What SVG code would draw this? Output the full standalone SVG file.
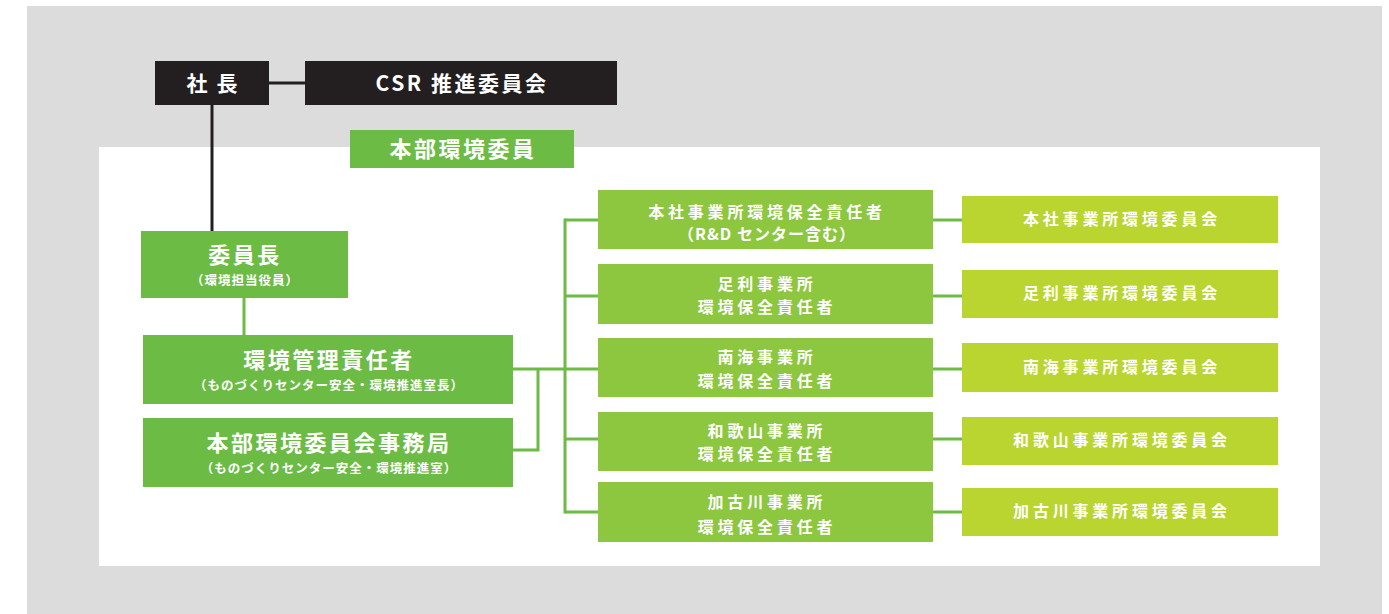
<svg xmlns="http://www.w3.org/2000/svg" width="1389" height="614" viewBox="0 0 1389 614">
<style>
  .t { font-family: "Noto Sans CJK JP", "Noto Sans", sans-serif; font-weight: bold; fill: #ffffff; text-anchor: middle; }
  .blk { fill: #231f20; }
  .g1 { fill: #6cbb45; }
  .g2 { fill: #8dc63f; }
  .g3 { fill: #bad530; }
  .lk { stroke: #231f20; stroke-width: 3; fill: none; }
  .lg { stroke: #6cbb45; stroke-width: 3; fill: none; }
  .big { font-size: 22px; letter-spacing: 2.5px; }
  .sub { font-size: 12.5px; letter-spacing: 1px; }
  .mid { font-size: 16px; letter-spacing: 3.8px; }
</style>
<rect x="0" y="0" width="1389" height="614" fill="#ffffff"/>
<rect x="27" y="6" width="1355" height="608" fill="#dcdcdc"/>
<rect x="99" y="147" width="1221" height="419" fill="#ffffff"/>

<g id="connectors">
  <line class="lk" x1="269" y1="83" x2="305" y2="83"/>
  <line class="lk" x1="212" y1="105" x2="212" y2="231"/>
  <line class="lg" x1="244" y1="298" x2="244" y2="335"/>
  <line class="lg" x1="513" y1="369" x2="565" y2="369"/>
  <polyline class="lg" points="538,369 538,450 513,450"/>
  <line class="lg" x1="565" y1="218.5" x2="565" y2="513.5"/>
  <line class="lg" x1="565" y1="220" x2="598" y2="220"/>
  <line class="lg" x1="565" y1="296" x2="598" y2="296"/>
  <line class="lg" x1="565" y1="369" x2="598" y2="369"/>
  <line class="lg" x1="565" y1="439" x2="598" y2="439"/>
  <line class="lg" x1="565" y1="512" x2="598" y2="512"/>
  <line class="lg" x1="933" y1="220" x2="962" y2="220"/>
  <line class="lg" x1="933" y1="296" x2="962" y2="296"/>
  <line class="lg" x1="933" y1="369" x2="962" y2="369"/>
  <line class="lg" x1="933" y1="439" x2="962" y2="439"/>
  <line class="lg" x1="933" y1="512" x2="962" y2="512"/>
</g>

<g id="president">
  <rect class="blk" x="155" y="61" width="114" height="44"/>
  <text class="t" x="213" y="91" style="font-size:21px;letter-spacing:2px">社 長</text>
</g>
<g id="csr">
  <rect class="blk" x="305" y="61" width="312" height="44"/>
  <text class="t" x="462" y="91" style="font-size:21px;letter-spacing:2.5px">CSR 推進委員会</text>
</g>
<g id="hq-env-members">
  <rect class="g1" x="350" y="130" width="224" height="38"/>
  <text class="t big" x="463" y="157">本部環境委員</text>
</g>
<g id="chairman">
  <rect class="g1" x="141" y="231" width="207" height="67"/>
  <text class="t big" x="245" y="263">委員長</text>
  <text class="t sub" x="245" y="285">（環境担当役員）</text>
</g>
<g id="env-manager">
  <rect class="g1" x="143" y="335" width="370" height="69"/>
  <text class="t big" x="329" y="368">環境管理責任者</text>
  <text class="t sub" x="329" y="390">（ものづくりセンター安全・環境推進室長）</text>
</g>
<g id="secretariat">
  <rect class="g1" x="143" y="418" width="370" height="69"/>
  <text class="t big" x="329" y="451">本部環境委員会事務局</text>
  <text class="t sub" x="329" y="473">（ものづくりセンター安全・環境推進室）</text>
</g>

<g id="m1">
  <rect class="g2" x="598" y="190" width="335" height="59"/>
  <text class="t mid" x="767" y="218">本社事業所環境保全責任者</text>
  <text class="t mid" x="767" y="240" style="letter-spacing:1px">（R&amp;D センター含む）</text>
</g>
<g id="m2">
  <rect class="g2" x="598" y="264" width="335" height="60"/>
  <text class="t mid" x="767" y="290">足利事業所</text>
  <text class="t mid" x="767" y="313">環境保全責任者</text>
</g>
<g id="m3">
  <rect class="g2" x="598" y="338" width="335" height="59"/>
  <text class="t mid" x="767" y="363">南海事業所</text>
  <text class="t mid" x="767" y="387">環境保全責任者</text>
</g>
<g id="m4">
  <rect class="g2" x="598" y="412" width="335" height="59"/>
  <text class="t mid" x="767" y="437">和歌山事業所</text>
  <text class="t mid" x="767" y="460">環境保全責任者</text>
</g>
<g id="m5">
  <rect class="g2" x="598" y="482" width="335" height="60"/>
  <text class="t mid" x="767" y="508">加古川事業所</text>
  <text class="t mid" x="767" y="533">環境保全責任者</text>
</g>

<g id="r1">
  <rect class="g3" x="962" y="196" width="316" height="47"/>
  <text class="t mid" x="1122" y="225">本社事業所環境委員会</text>
</g>
<g id="r2">
  <rect class="g3" x="962" y="270" width="316" height="48"/>
  <text class="t mid" x="1122" y="299">足利事業所環境委員会</text>
</g>
<g id="r3">
  <rect class="g3" x="962" y="343" width="316" height="49"/>
  <text class="t mid" x="1122" y="373">南海事業所環境委員会</text>
</g>
<g id="r4">
  <rect class="g3" x="962" y="417" width="316" height="48"/>
  <text class="t mid" x="1122" y="446">和歌山事業所環境委員会</text>
</g>
<g id="r5">
  <rect class="g3" x="962" y="488" width="316" height="48"/>
  <text class="t mid" x="1122" y="517">加古川事業所環境委員会</text>
</g>
</svg>
